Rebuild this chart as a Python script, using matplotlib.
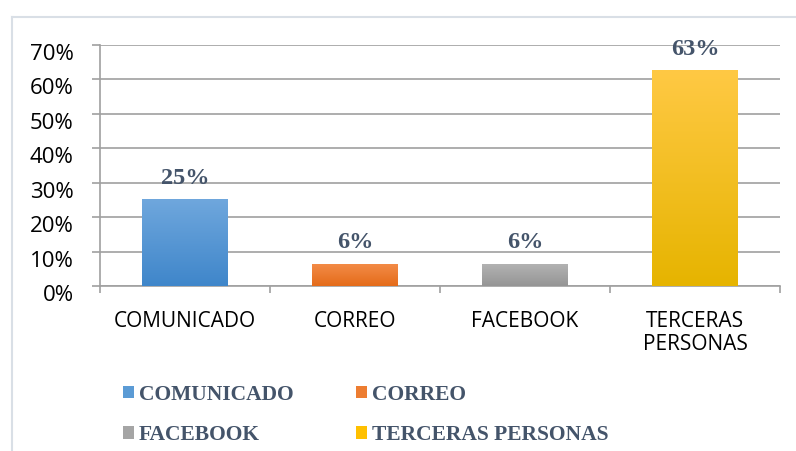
import matplotlib
matplotlib.use("Agg")
import matplotlib.pyplot as plt
import matplotlib.transforms as mtransforms
from matplotlib.colors import LinearSegmentedColormap
from matplotlib.patches import Patch
from matplotlib.lines import Line2D
import numpy as np

categories = ["COMUNICADO", "CORREO", "FACEBOOK", "TERCERAS\nPERSONAS"]
legend_names = ["COMUNICADO", "CORREO", "FACEBOOK", "TERCERAS PERSONAS"]
values = [0.25, 0.0625, 0.0625, 0.625]
value_labels = ["25%", "6%", "6%", "63%"]
yticks = [0, 0.1, 0.2, 0.3, 0.4, 0.5, 0.6, 0.7]
ytick_labels = ["0%", "10%", "20%", "30%", "40%", "50%", "60%", "70%"]
top_colors = ["#6FA7DD", "#F38B47", "#B2B2B2", "#FFC944"]
bottom_colors = ["#3F86CA", "#E46B19", "#959595", "#E6B400"]
mid_colors = ["#5B9BD5", "#ED7D31", "#A5A5A5", "#FFC000"]

W, H = 796, 451
fig = plt.figure(figsize=(W / 100, H / 100), dpi=100)
fig.patch.set_facecolor("white")

# outer chart frame (partially visible)
frame_col = "#D9DFE6"
fig.add_artist(Line2D([12 / W, 12 / W], [0, 1 - 17 / H], transform=fig.transFigure, color=frame_col, lw=1.5))
fig.add_artist(Line2D([12 / W, 1], [1 - 17 / H, 1 - 17 / H], transform=fig.transFigure, color=frame_col, lw=1.5))

ax = fig.add_axes([100 / W, (H - 286) / H, (780 - 100) / W, (286 - 45) / H])
x = np.arange(len(categories))
bw = 0.505
bars = ax.bar(x, values, width=bw, color="none", edgecolor="none", zorder=3)

# gradient fills
grad = np.linspace(0, 1, 256).reshape(-1, 1)
for b, tc, bc in zip(bars, top_colors, bottom_colors):
    cmap = LinearSegmentedColormap.from_list("g", [bc, tc])
    x0, y0 = b.get_x(), b.get_y()
    ax.imshow(grad, cmap=cmap, aspect="auto", origin="lower",
              extent=[x0, x0 + b.get_width(), y0, y0 + b.get_height()], zorder=3)

ax.set_xlim(-0.5, 3.5)
ax.set_ylim(0, 0.7)

grid_col = "#A0A0A0"
ax.set_yticks(yticks)
ax.set_yticklabels(ytick_labels, fontfamily="Open Sans", fontsize=16, color="black")
ax.yaxis.grid(True, color=grid_col, lw=1.2, zorder=0)
ax.set_axisbelow(True)
ax.tick_params(axis="y", length=6, color=grid_col, width=1.2, pad=13)

ax.set_xticks(x)
ax.set_xticklabels(categories, fontfamily="Open Sans", fontsize=15, color="black", linespacing=1.1, va="top")
ax.set_xticks(np.arange(-0.5, 4.0, 1.0), minor=True)
ax.tick_params(axis="x", which="major", length=0, pad=18)
ax.tick_params(axis="x", which="minor", length=5, color=grid_col, width=1.2)

for s in ["top", "right"]:
    ax.spines[s].set_visible(False)
ax.spines["left"].set_color(grid_col)
ax.spines["left"].set_linewidth(1.2)
ax.spines["bottom"].set_color(grid_col)
ax.spines["bottom"].set_linewidth(1.2)

# y tick labels sit slightly lower than the gridlines
off = mtransforms.ScaledTranslation(0, -7 / 100, fig.dpi_scale_trans)
for lab in ax.get_yticklabels():
    lab.set_transform(lab.get_transform() + off)

label_col = "#44546A"
for b, txt in zip(bars, value_labels):
    ax.annotate(txt, (b.get_x() + b.get_width() / 2, b.get_height()),
                xytext=(0, 8), textcoords="offset points", ha="center", va="bottom",
                fontfamily="Liberation Serif", fontweight="bold", fontsize=17.5, color=label_col, zorder=5)

handles = [Patch(facecolor=c, edgecolor="none") for c in mid_colors]
order = [0, 2, 1, 3]
leg = fig.legend([handles[i] for i in order], [legend_names[i] for i in order], ncol=2,
                 loc="upper left", bbox_to_anchor=(112 / W, 1 - 374 / H), frameon=False,
                 prop={"family": "Liberation Serif", "weight": "bold", "size": 15.5},
                 handlelength=0.5, handleheight=0.5, handletextpad=0.25,
                 columnspacing=2.9, labelspacing=0.95, borderpad=0)
for t in leg.get_texts():
    t.set_color(label_col)

fig.savefig("out.png", dpi=100)
